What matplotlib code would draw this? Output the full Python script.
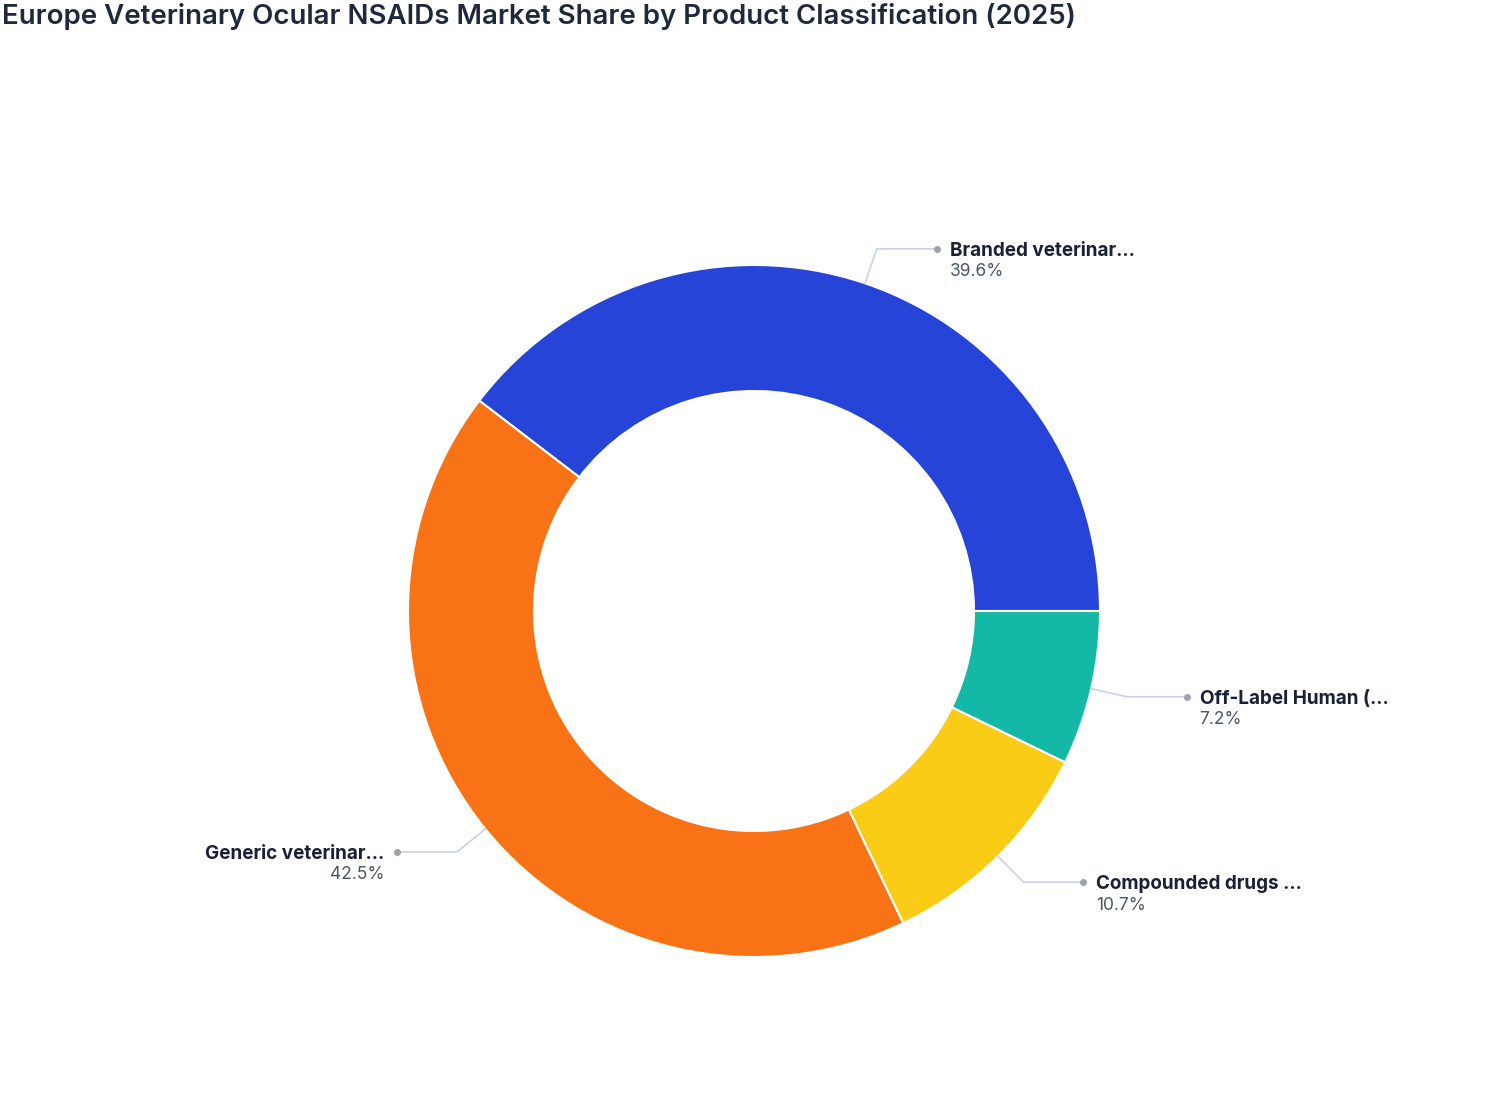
import numpy as np
import matplotlib.pyplot as plt

plt.rcParams['font.family'] = ['Inter', 'DejaVu Sans']

labels = ['Branded veterinar...', 'Generic veterinar...', 'Compounded drugs ...', 'Off-Label Human (...']
shares = [39.6, 42.5, 10.7, 7.2]
colors = ['#2744d9', '#f97316', '#facc15', '#14b8a6']

W, H = 1508, 1120
cx, cy, R = 754, 611, 346

fig = plt.figure(figsize=(W / 100, H / 100), dpi=100)
ax = fig.add_axes([(cx - R) / W, (H - cy - R) / H, 2 * R / W, 2 * R / H])

wedges, _ = ax.pie(shares, colors=colors, startangle=0, counterclock=True,
                   radius=1.0, wedgeprops=dict(width=(346 - 220) / 346, edgecolor='white', linewidth=1.5))
ax.set_xlim(-1, 1)
ax.set_ylim(-1, 1)
ax.set_aspect('equal')
ax.axis('off')

seg = 60 / R
gap = 13 / R
for w, lab, val in zip(wedges, labels, shares):
    ang = np.deg2rad((w.theta1 + w.theta2) / 2)
    x0, y0 = np.cos(ang), np.sin(ang)
    x1, y1 = 1.105 * x0, 1.105 * y0
    side = 1 if x0 >= 0 else -1
    x2 = x1 + side * seg
    ax.plot([x0, x1, x2], [y0, y1, y1], color='#c7d2ea', lw=1.2, clip_on=False)
    ax.plot([x2], [y1], 'o', color='#9ca3af', ms=4, clip_on=False)
    ha = 'left' if side > 0 else 'right'
    tx = x2 + side * gap
    ax.text(tx, y1 - 2 / R, lab, ha=ha, va='center', fontsize=13.6, fontweight='bold',
            color='#1a2035', clip_on=False)
    ax.text(tx, y1 - 23 / R, f'{val:.1f}%', ha=ha, va='center', fontsize=12.5,
            color='#4b5563', clip_on=False)

fig.text(2 / W, 1 - 17 / H, 'Europe Veterinary Ocular NSAIDs Market Share by Product Classification (2025)',
         ha='left', va='center', fontsize=19.9, fontweight='semibold', color='#1e293b')

fig.savefig('out.png', dpi=100, facecolor='white')
